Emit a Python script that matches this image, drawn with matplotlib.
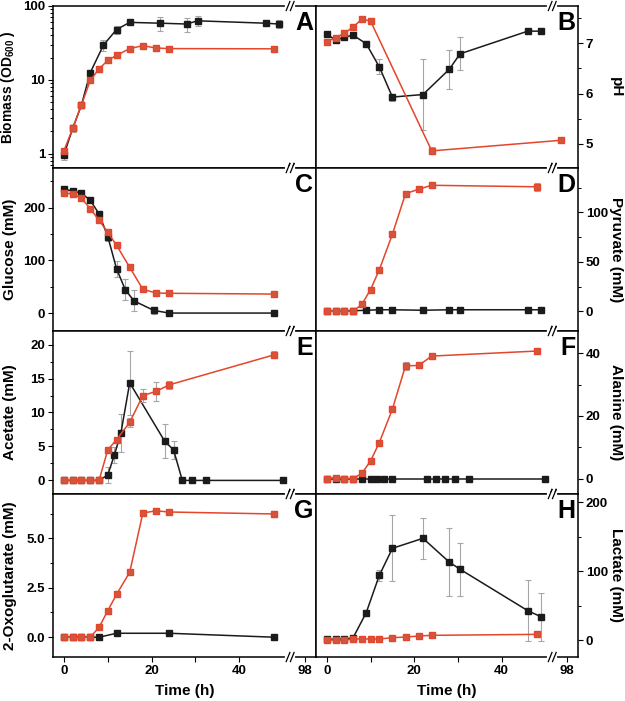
"""Growth / metabolite time courses, eight panels with a broken time axis."""

import numpy as np
import matplotlib
matplotlib.use("Agg")
import matplotlib.pyplot as plt
from matplotlib.ticker import FixedLocator, MultipleLocator, LogLocator, NullFormatter

plt.rcParams["font.family"] = ["Liberation Sans", "DejaVu Sans"]
plt.rcParams["font.weight"] = "bold"
plt.rcParams["mathtext.fontset"] = "custom"
plt.rcParams["mathtext.bf"] = "Liberation Sans:bold"
plt.rcParams["mathtext.rm"] = "Liberation Sans:bold"

BLACK = "#1b1b1b"
RED_LINE = "#e4452b"
RED_FACE = "#d0573f"
ERR = "#a6a6a6"

# ---- data ---------------------------------------------------------------
t_red = [0, 2, 4, 6, 8, 10, 12, 15, 18, 21, 24, 48]
t_black = [0, 2, 4, 6, 9, 12, 15, 22, 28, 30.5, 46, 49]
t_black_c = [0, 2, 4, 6, 8, 10, 12, 14, 16, 20.5, 24, 48]
t_black_e = [0, 2, 4, 6, 8, 10, 11.5, 13, 15, 23, 25, 27, 29.3, 32.5, 50]
t_black_g = [0, 2, 4, 6, 8, 12, 24, 48]
t_red_b = [0, 2, 4, 6, 8, 10, 24, 96.5]

biomass_black = [0.97, 2.2, 4.6, 12.5, 29.5, 48, 60, 58.5, 57, 63, 58.5, 57]
biomass_black_err = [0.15, 0, 0, 0, 5, 6, 0, 13, 12, 10, 3, 7]
biomass_red = [1.1, 2.2, 4.6, 9.8, 14.1, 18.3, 21.5, 26.5, 29, 27, 26.5, 26.3]
biomass_red_err = [0, 0.25, 0, 0, 0, 0, 0, 0, 0, 0, 0, 0]

ph_black = [7.18, 7.06, 7.12, 7.16, 6.99, 6.53, 5.93, 5.98, 6.48, 6.79, 7.24, 7.24]
ph_black_err = [0, 0, 0, 0, 0.05, 0.15, 0.07, 0.7, 0.38, 0.33, 0, 0]
ph_red = [7.03, 7.11, 7.2, 7.32, 7.48, 7.44, 4.86, 5.07]
ph_red_err = [0, 0, 0, 0, 0, 0, 0.07, 0]

glucose_black = [234.7, 231.5, 227, 214, 188, 145, 84, 44, 23, 5, 0, 0]
glucose_black_err = [0, 0, 0, 0, 0, 8, 15, 20, 20, 6, 0, 0]
glucose_red = [227, 226, 217.6, 198, 176, 153, 128.5, 86.7, 45, 38, 37.5, 36]

pyruvate_black = [0, 0, 0, 0.5, 1, 1.5, 1.5, 1, 1.5, 1.5, 1.5, 1.5]
pyruvate_red = [0, 0, 0, 0, 7, 22, 42, 78, 119, 123.5, 127.5, 126]
pyruvate_red_err = [0, 0, 0, 0, 0, 0, 0, 0, 0, 0, 0, 4]

acetate_black = [0, 0, 0, 0, 0, 0.8, 3.75, 7.0, 14.37, 5.75, 4.5, 0, 0, 0, 0]
acetate_black_err = [0, 0, 0, 0, 0, 1.2, 1.2, 2.8, 4.7, 2.5, 1.3, 0, 0, 0, 0]
acetate_red = [0, 0, 0, 0, 0, 4.5, 6.0, 8.55, 12.5, 13.1, 14.07, 18.5]
acetate_red_err = [0, 0, 0, 0, 0, 0, 0, 0.7, 0.9, 1.4, 0.6, 0.5]

alanine_black = [0] * 15
alanine_red = [0, 0.3, 0, 0, 1.7, 5.65, 11.5, 22.2, 36, 36.1, 39.1, 40.7]
alanine_red_err = [0, 0, 0, 0, 0, 0, 0, 0, 1.2, 0, 0, 0]

oxo_black = [0, 0, 0, 0, 0, 0.2, 0.2, 0]
oxo_red = [0, 0, 0, 0, 0.5, 1.34, 2.17, 3.28, 6.28, 6.39, 6.33, 6.23]
oxo_red_err = [0, 0, 0, 0, 0, 0, 0, 0, 0, 0, 0, 0.15]

lactate_black = [1, 1, 1, 3.4, 39.6, 93.7, 132.9, 147.4, 113, 102.5, 42.5, 33.8]
lactate_black_err = [0, 0, 0, 0, 3, 8, 48, 30, 49, 38, 44, 35]
lactate_red = [0, 0, 0, 1.5, 1.5, 1.5, 1.5, 3.4, 4.3, 5.8, 6.8, 8.2]

# ---- broken time axis ---------------------------------------------------
GAP_LO, GAP_HI = 52.0, 95.0


def fwd(t):
    t = np.asarray(t, dtype=float)
    return np.where(t <= GAP_LO, t, np.where(t >= GAP_HI, t - (GAP_HI - GAP_LO), GAP_LO))


def inv(x):
    x = np.asarray(x, dtype=float)
    return np.where(x <= GAP_LO, x, x + (GAP_HI - GAP_LO))


def add_break(ax, t=51.6):
    disp = ax.get_xaxis_transform().transform((t, 0))
    xf = ax.transAxes.inverted().transform(disp)[0]
    for y in (0, 1):
        ax.plot([xf - 0.012, xf + 0.012], [y, y], color="white", lw=3,
                transform=ax.transAxes, clip_on=False, zorder=5)
        for dx in (-0.008, 0.008):
            ax.plot([xf + dx - 0.007, xf + dx + 0.007], [y - 0.028, y + 0.028],
                    color="black", lw=0.9, transform=ax.transAxes,
                    clip_on=False, zorder=6)


def series(ax, t, y, err, kind):
    if kind == "black":
        ax.errorbar(t, y, yerr=err, color=BLACK, marker="s", ms=4.6, lw=1.1,
                    mfc=BLACK, mec=BLACK, ecolor=ERR, elinewidth=0.8,
                    capsize=2, capthick=0.8, zorder=3)
    else:
        ax.errorbar(t, y, yerr=err, color=RED_LINE, marker="s", ms=4.6, lw=1.1,
                    mfc=RED_FACE, mec=RED_LINE, ecolor=ERR, elinewidth=0.8,
                    capsize=2, capthick=0.8, zorder=4)


def zeros(n):
    return [0] * n


def main():
    fig = plt.figure(figsize=(6.25, 7.01), dpi=100)
    lefts = [53 / 625, 316 / 625]
    widths = [263 / 625, 262 / 625]
    row_px = [(6, 168), (168, 331), (331, 494), (494, 657)]

    panels = [
        # letter, ylabel, ylim, ticks, minor, black(t, y, err), red(t, y, err)
        ("A", "Biomass (OD$_{\\mathbf{600}}$ )", (0.64, 100), None, None,
         (t_black, biomass_black, biomass_black_err), (t_red, biomass_red, biomass_red_err)),
        ("B", "pH", (4.52, 7.74), [5, 6, 7], 0.5,
         (t_black, ph_black, ph_black_err), (t_red_b, ph_red, ph_red_err)),
        ("C", "Glucose (mM)", (-34, 275), [0, 100, 200], 50,
         (t_black_c, glucose_black, glucose_black_err), (t_red, glucose_red, zeros(12))),
        ("D", "Pyruvate (mM)", (-20, 145), [0, 50, 100], 25,
         (t_black, pyruvate_black, zeros(12)), (t_red, pyruvate_red, pyruvate_red_err)),
        ("E", "Acetate (mM)", (-2, 22), [0, 5, 10, 15, 20], 2.5,
         (t_black_e, acetate_black, acetate_black_err), (t_red, acetate_red, acetate_red_err)),
        ("F", "Alanine (mM)", (-4.9, 47.1), [0, 20, 40], 10,
         (t_black_e, alanine_black, zeros(15)), (t_red, alanine_red, alanine_red_err)),
        ("G", "2-Oxoglutarate (mM)", (-1.0, 7.24), [0.0, 2.5, 5.0], 1.25,
         (t_black_g, oxo_black, zeros(8)), (t_red, oxo_red, oxo_red_err)),
        ("H", "Lactate (mM)", (-24.6, 211.6), [0, 100, 200], 50,
         (t_black, lactate_black, lactate_black_err), (t_red, lactate_red, zeros(12))),
    ]

    for i, (letter, ylabel, ylim, ticks, minor, blk, red) in enumerate(panels):
        row, col = divmod(i, 2)
        top, bot = row_px[row]
        ax = fig.add_axes([lefts[col], 1 - bot / 701, widths[col], (bot - top) / 701])
        ax.set_xscale("function", functions=(fwd, inv))
        if letter == "A":
            ax.set_yscale("log")
            ax.yaxis.set_major_locator(FixedLocator([1, 10, 100]))
            ax.yaxis.set_minor_locator(LogLocator(base=10, subs=np.arange(2, 10)))
            ax.yaxis.set_minor_formatter(NullFormatter())
            ax.set_yticklabels(["1", "10", "100"])
        else:
            ax.yaxis.set_major_locator(FixedLocator(ticks))
            ax.yaxis.set_minor_locator(MultipleLocator(minor))
            if letter == "G":
                ax.set_yticklabels(["0.0", "2.5", "5.0"])
        series(ax, *blk, "black")
        series(ax, *red, "red")
        ax.set_xlim(-2.5, 100.5)
        ax.set_ylim(*ylim)

        ax.xaxis.set_major_locator(FixedLocator([0, 10, 20, 30, 40, 98]))
        ax.xaxis.set_minor_locator(FixedLocator([]))
        if row == 3:
            ax.set_xticklabels(["0", "", "20", "", "40", "98"])
            ax.set_xlabel("Time (h)", fontsize=11, fontweight="bold", labelpad=5)
        else:
            ax.set_xticklabels([])

        ax.tick_params(axis="both", which="major", direction="out", length=3.5,
                       width=0.8, labelsize=9.5, pad=2)
        ax.tick_params(axis="y", which="minor", direction="out", length=2,
                       width=0.7)
        for sp in ax.spines.values():
            sp.set_linewidth(1.1)

        size = 10 if letter == "A" else 11
        if col == 1:
            ax.yaxis.tick_right()
            ax.yaxis.set_label_position("right")
            ax.set_ylabel(ylabel, fontsize=size, fontweight="bold", rotation=270)
            ax.yaxis.set_label_coords(1.17, 0.5)
        else:
            ax.set_ylabel(ylabel, fontsize=size, fontweight="bold")
            ax.yaxis.set_label_coords(-0.137, 0.5)

        ax.text(0.99, 0.97, letter, transform=ax.transAxes, ha="right", va="top",
                fontsize=18, fontweight="bold")
        add_break(ax)

    fig.savefig("out.png", dpi=100)


if __name__ == "__main__":
    main()
